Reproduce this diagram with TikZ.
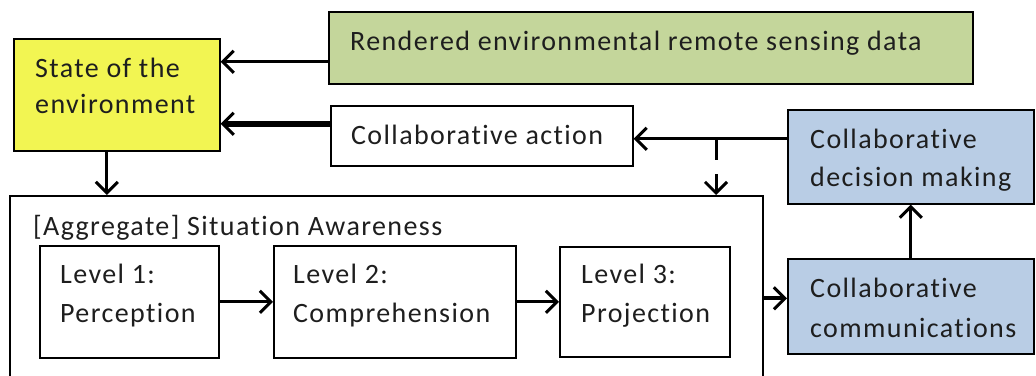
\documentclass[tikz,border=0pt]{standalone}
\usepackage{fontspec}
\setmainfont{Carlito}[LetterSpace=5, Ligatures=NoCommon]
\usetikzlibrary{arrows.meta}
\definecolor{envyellow}{RGB}{242,245,82}
\definecolor{sensegreen}{RGB}{196,214,155}
\definecolor{collabblue}{RGB}{185,205,229}
\definecolor{ink}{RGB}{30,30,30}
\begin{document}
\begin{tikzpicture}[x=1pt,y=-1pt,
  box/.style={draw=black, line width=1.6pt, inner sep=0pt, anchor=north west},
  txt/.style={anchor=base west, inner sep=0pt, text=ink, font=\fontsize{28}{33}\selectfont},
  tip/.style={-{Straight Barb[length=11pt,width=22pt,line width=3pt]}},
  flow/.style={tip, line width=3pt},
  heavy/.style={tip, line width=5.5pt},
  medium/.style={tip, line width=4pt}]
\useasboundingbox (0,0) rectangle (1036,375);
\clip (0,0) rectangle (1036,375);

% boxes
\node[box, fill=envyellow, minimum width=206pt, minimum height=112pt] (state) at (13,38) {};
\node[box, fill=sensegreen, minimum width=644pt, minimum height=72pt] (sense) at (328,11) {};
\node[box, fill=white, minimum width=302pt, minimum height=60pt] (action) at (330,105) {};
\node[box, fill=collabblue, minimum width=246pt, minimum height=94pt] (decide) at (787,109) {};
\node[box, fill=collabblue, minimum width=246pt, minimum height=95pt] (comm) at (787,258) {};
\node[box, fill=white, minimum width=753pt, minimum height=250pt] (sa) at (9,195) {};
\node[box, minimum width=179pt, minimum height=112pt] (lvl1) at (39,245) {};
\node[box, minimum width=242pt, minimum height=112pt] (lvl2) at (273,245) {};
\node[box, minimum width=170pt, minimum height=110pt] (lvl3) at (559,246) {};

% texts
\node[txt] (stateA) at (35,77) {State of the};
\node[txt] (stateB) at (35,113) {environment};
\node[txt] (senseA) at (350,50) {Rendered environmental remote sensing data};
\node[txt] (actionA) at (351,144) {Collaborative action};
\node[txt] (decideA) at (810,148) {Collaborative};
\node[txt] (decideB) at (810,186) {decision making};
\node[txt] (commA) at (810,297) {Collaborative};
\node[txt] (commB) at (810,337) {communications};
\node[txt] (saA) at (33,235) {[Aggregate] Situation Awareness};
\node[txt] (lvlA) at (60,283) {Level 1:};
\node[txt] (lvlB) at (60,322) {Perception};
\node[txt] (lvlC) at (293,283) {Level 2:};
\node[txt] (lvlD) at (293,322) {Comprehension};
\node[txt] (lvlE) at (581,283) {Level 3:};
\node[txt] (lvlF) at (581,322) {Projection};

% connection points
\path (sense.west) ++(0,14) coordinate (senseOut);
\path (action.west) ++(0,-12) coordinate (actionOut);
\path (decide.west) ++(0,-18) coordinate (decideOut);
\path (state.south) ++(-10,0) coordinate (stateOut);
\path (comm.west) ++(0,-8) coordinate (commIn);
\coordinate (junc) at (716,138);

% connectors
\draw[flow] (senseOut) -- (senseOut -| state.east);
\draw[heavy] (actionOut) -- (actionOut -| state.east);
\draw[flow] (decideOut) -- (decideOut -| action.east);
\draw[flow, dash pattern=on 22pt off 14pt] (junc) -- (junc |- sa.north);
\draw[flow] (stateOut) -- (stateOut |- sa.north);
\draw[flow] (lvl1.east) -- (lvl2.west);
\draw[flow] (lvl2.east) -- (lvl3.west);
\draw[medium] (commIn -| sa.east) -- (commIn);
\draw[flow] (comm.north) -- (decide.south);
\end{tikzpicture}
\end{document}
